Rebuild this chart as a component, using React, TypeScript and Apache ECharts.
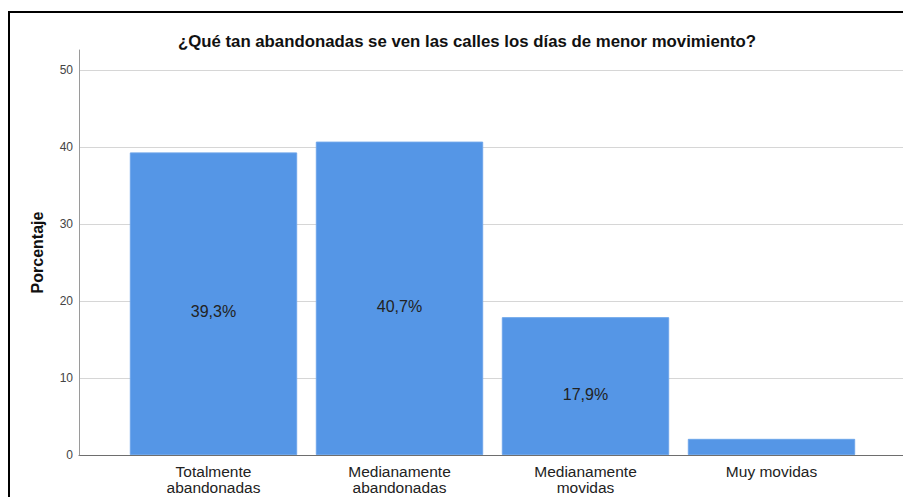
import React, { useEffect, useRef } from "react";
import * as echarts from "echarts";

const titleText = "¿Qué tan abandonadas se ven las calles los días de menor movimiento?";
const categories = [
  "Totalmente\nabandonadas",
  "Medianamente\nabandonadas",
  "Medianamente\nmovidas",
  "Muy movidas",
];
const percentages = [39.3, 40.7, 17.9, 2.1];
const yTicks = { min: 0, max: 50, interval: 10 };
const yAxisName = "Porcentaje";

const FONT = "'Liberation Sans', Arial, sans-serif";

export default function App() {
  const ref = useRef<HTMLDivElement>(null);
  useEffect(() => {
    if (!ref.current) return;
    const chart = echarts.init(ref.current, undefined, { renderer: "svg" });
    const top = 70;
    const bottom = 42;
    chart.setOption({
      animation: false,
      backgroundColor: "#ffffff",
      title: {
        text: titleText,
        left: 462,
        top: 28,
        textAlign: "center",
        textStyle: { fontFamily: FONT, fontSize: 16.8, fontWeight: "bold", color: "#111" },
      },
      graphic: [
        {
          type: "rect",
          shape: { x: 9, y: 12, width: 1000, height: 1000 },
          style: { fill: "none", stroke: "#000", lineWidth: 2 },
          silent: true,
        },
      ],
      grid: [
        { left: 79, right: 0, top: 50, bottom },
        { left: 79, right: 0, top, bottom },
        { left: 120.5, right: 38.5, top, bottom },
      ],
      xAxis: [
        {
          gridIndex: 0,
          type: "value",
          min: 0,
          max: 1,
          axisLine: { show: true, lineStyle: { color: "#6e6e6e", width: 1 } },
          axisTick: { show: false },
          axisLabel: { show: false },
          splitLine: { show: false },
        },
        {
          gridIndex: 1,
          type: "value",
          show: false,
        },
        {
          gridIndex: 2,
          type: "category",
          data: categories,
          axisLine: { show: false },
          axisTick: { show: false },
          axisLabel: {
            fontFamily: FONT,
            fontSize: 15.5,
            color: "#222",
            lineHeight: 16,
            margin: 8,
            interval: 0,
          },
        },
      ],
      yAxis: [
        {
          gridIndex: 0,
          type: "value",
          min: 0,
          max: 1,
          name: yAxisName,
          nameLocation: "middle",
          nameGap: 34,
          nameTextStyle: { fontFamily: FONT, fontSize: 16, fontWeight: "bold", color: "#111" },
          axisLine: { show: true, lineStyle: { color: "#9a9a9a", width: 1 } },
          axisTick: { show: false },
          axisLabel: { show: false },
          splitLine: { show: false },
          z: 3,
        },
        {
          gridIndex: 1,
          type: "value",
          min: yTicks.min,
          max: yTicks.max,
          interval: yTicks.interval,
          axisLine: { show: false },
          axisTick: { show: false },
          axisLabel: { fontFamily: FONT, fontSize: 12, color: "#444", margin: 6 },
          splitLine: { show: true, lineStyle: { color: "#d6d6d6", width: 1 } },
        },
        {
          gridIndex: 2,
          type: "value",
          min: yTicks.min,
          max: yTicks.max,
          show: false,
        },
      ],
      series: [
        {
          type: "bar",
          xAxisIndex: 2,
          yAxisIndex: 2,
          data: percentages,
          barCategoryGap: "10%",
          itemStyle: { color: "#5596e6", borderColor: "#6ea6ea", borderWidth: 1 },
          label: {
            show: true,
            position: "inside",
            offset: [0, 8],
            fontFamily: FONT,
            fontSize: 16,
            color: "#222",
            formatter: (p: any) =>
              p.value >= 5 ? p.value.toFixed(1).replace(".", ",") + "%" : "",
          },
          z: 4,
        },
      ],
    });
    return () => chart.dispose();
  }, []);
  return (
    <div
      ref={ref}
      style={{ position: "fixed", left: 0, top: 0, width: 903, height: 497 }}
    />
  );
}
